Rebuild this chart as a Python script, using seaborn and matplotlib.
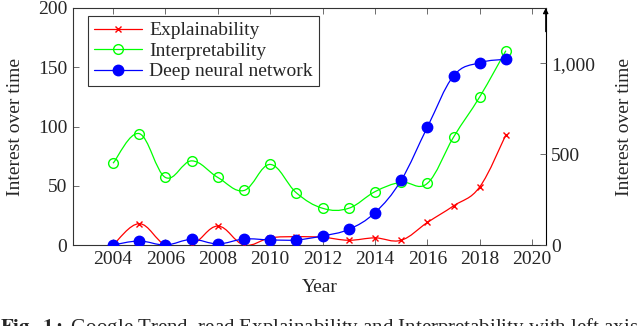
import numpy as np
import pandas as pd
import matplotlib
matplotlib.use("Agg")
import matplotlib.pyplot as plt
from matplotlib.path import Path
from matplotlib.patches import PathPatch
from matplotlib.lines import Line2D
import seaborn as sns

years = [2004, 2005, 2006, 2007, 2008, 2009, 2010, 2011, 2012, 2013, 2014, 2015, 2016, 2017, 2018, 2019]
explainability = [0, 18, 0, 0, 16, 0, 6, 7, 6.5, 4, 6, 4, 19, 33, 49, 93]
interpretability = [69, 94, 57, 71, 57, 46, 68, 44, 31, 31, 45, 53, 52, 91, 125, 164]
deep_nn = [0, 22, 0, 31, 6, 33, 28, 28, 50, 86, 178, 356, 648, 930, 1003, 1022]

left_ticks = [0, 50, 100, 150, 200]
right_ticks = [0, 500, 1000]
right_ticklabels = ["0", "500", "1,000"]
x_ticks = [2004, 2006, 2008, 2010, 2012, 2014, 2016, 2018, 2020]

sns.set_theme(style="white")
plt.rcParams["font.family"] = ["Liberation Serif", "DejaVu Serif"]
plt.rcParams["mathtext.fontset"] = "stix"

RED, GREEN, BLUE = "#ff0000", "#00ff00", "#0000ff"
FS = 14

fig = plt.figure(figsize=(6.4, 3.26), dpi=100)
ax = fig.add_axes([73 / 640, (326 - 245) / 326, 472.7 / 640, 237 / 326])
ax2 = ax.twinx()


def smooth_path(xs, ys, tension=0.55):
    xs = np.asarray(xs, float)
    ys = np.asarray(ys, float)
    pts = np.column_stack([xs, ys])
    n = len(pts)
    verts = [pts[0]]
    codes = [Path.MOVETO]
    f = tension / 3.0
    for i in range(n - 1):
        p0 = pts[i - 1] if i > 0 else pts[i]
        p1 = pts[i]
        p2 = pts[i + 1]
        p3 = pts[i + 2] if i + 2 < n else pts[i + 1]
        c1 = p1 + (p2 - p0) * f
        c2 = p2 - (p3 - p1) * f
        verts += [c1, c2, p2]
        codes += [Path.CURVE4] * 3
    return Path(verts, codes)


def draw(axis, ys, color, marker, mfc, ms, mew):
    axis.add_patch(PathPatch(smooth_path(years, ys), facecolor="none",
                             edgecolor=color, lw=0.9, zorder=3))
    df = pd.DataFrame({"Year": years, "v": ys})
    sns.lineplot(data=df, x="Year", y="v", ax=axis, linestyle="none",
                 marker=marker, markersize=ms, markerfacecolor=mfc,
                 markeredgecolor=color, markeredgewidth=mew, color=color,
                 zorder=4)


draw(ax, explainability, RED, "x", RED, 5, 1.0)
draw(ax, interpretability, GREEN, "o", "none", 7, 1.0)
draw(ax2, deep_nn, BLUE, "o", BLUE, 7.5, 1.0)

ax.set_xlim(2002.47, 2020.52)
ax.set_ylim(0, 200)
ax2.set_ylim(0, 1304)

ax.set_xticks(x_ticks)
ax.set_yticks(left_ticks)
ax2.set_yticks(right_ticks)
ax2.set_yticklabels(right_ticklabels)

ax.tick_params(axis="x", direction="in", top=True, bottom=True, length=4,
               width=0.6, labelsize=FS, pad=4, color="#555555")
ax.tick_params(axis="y", direction="in", left=True, right=False, length=4,
               width=0.6, labelsize=FS, pad=4, color="#555555")
ax2.tick_params(axis="y", direction="in", right=True, length=4, width=0.6,
                labelsize=FS, pad=4, color="#555555")

for s in ax.spines.values():
    s.set_color("#333333")
    s.set_linewidth(0.8)
for s in ax2.spines.values():
    s.set_visible(False)
ax.spines["right"].set_color("black")

ax2.annotate("", xy=(1, 1.0), xytext=(1, 0.9), xycoords="axes fraction",
             textcoords="axes fraction",
             arrowprops=dict(arrowstyle="-|>", color="black", lw=0.8,
                             mutation_scale=8, shrinkA=0, shrinkB=0))

ax.set_xlabel("Year", fontsize=FS)
ax.set_ylabel("Interest over time", fontsize=FS)
ax2.set_ylabel("Interest over time", fontsize=FS, rotation=90)
ax.xaxis.set_label_coords((320 - 73) / 472.7, -(288 - 245) / 237)
ax.yaxis.set_label_coords(-(73 - 15) / 472.7, 0.5)
ax2.yaxis.set_label_coords((625 - 73) / 472.7, 0.5)
ax.xaxis.label.set_va("center")
ax.yaxis.label.set_va("center")
ax2.yaxis.label.set_va("center")

handles = [
    Line2D([], [], color=RED, lw=0.9, marker="x", ms=5, mew=1.0),
    Line2D([], [], color=GREEN, lw=0.9, marker="o", ms=7, mfc="none", mew=1.0),
    Line2D([], [], color=BLUE, lw=0.9, marker="o", ms=7.5, mfc=BLUE, mew=1.0),
]
labels = ["Explainability", "Interpretability", "Deep neural network"]
leg = ax2.legend(handles, labels, loc="upper left",
                 bbox_to_anchor=(15 / 472.7, 1 - 8 / 237), borderaxespad=0,
                 fontsize=FS, frameon=True, fancybox=False, framealpha=1,
                 edgecolor="#333333", handlelength=2.5, handletextpad=0.35,
                 labelspacing=0.15, borderpad=0.3)
leg.get_frame().set_linewidth(0.8)

fig.text(0.0, 1 - 316 / 326, r"$\mathbf{Fig.\ 1:}$ Google Trend, read Explainability and Interpretability with left axis",
         fontsize=15, va="top", ha="left")

fig.savefig("out.png", dpi=100)
